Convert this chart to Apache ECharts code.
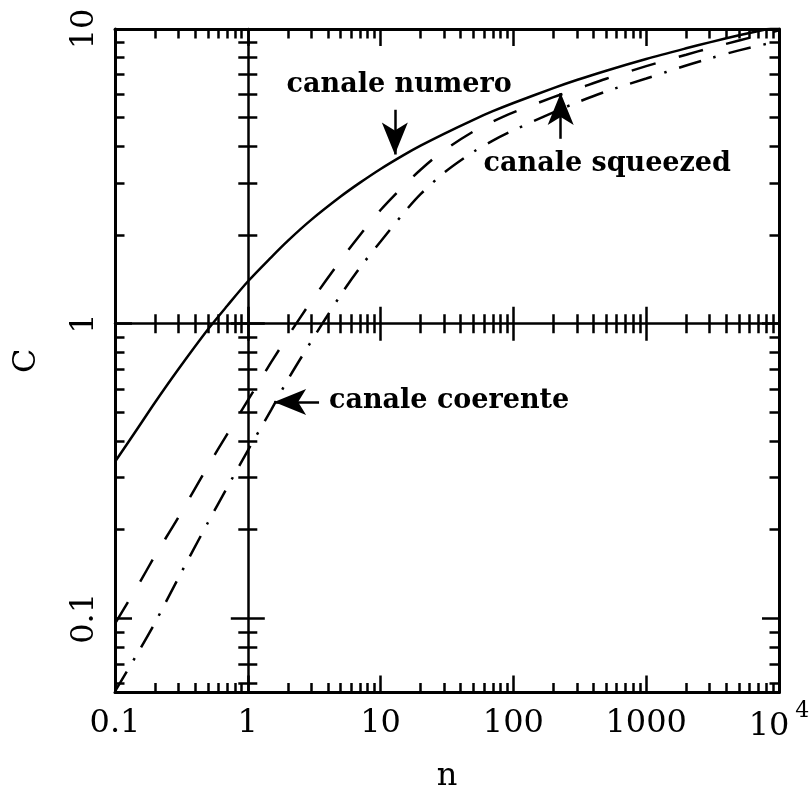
<!DOCTYPE html>
<html>
<head>
<meta charset="utf-8">
<script src="https://cdn.jsdelivr.net/npm/echarts@6.0.0/dist/echarts.min.js"></script>
<style>
html,body{margin:0;padding:0;background:#ffffff;}
#chart{width:810px;height:809px;}
</style>
</head>
<body>
<div id="chart"></div>
<script>
// ---- data ----
const nValues   = [0.1, 0.15, 0.2, 0.3, 0.5, 0.7, 1, 1.5, 2, 3, 5, 7, 10, 15, 20, 30, 50, 70, 100, 200, 300, 500, 1000, 2000, 3000, 5000, 10000];
const numero    = [0.34, 0.445, 0.54, 0.70, 0.955, 1.15, 1.39, 1.68, 1.91, 2.25, 2.70, 3.01, 3.35, 3.74, 4.02, 4.41, 4.92, 5.26, 5.61, 6.30, 6.71, 7.22, 7.91, 8.60, 9.01, 9.52, 10.2];
const squeezed  = [0.096, 0.130, 0.163, 0.220, 0.328, 0.422, 0.549, 0.74, 0.905, 1.19, 1.64, 2.00, 2.43, 2.94, 3.33, 3.87, 4.49, 4.85, 5.21, 5.87, 6.25, 6.78, 7.48, 8.18, 8.61, 9.14, 9.9];
const coerente  = [0.0565, 0.0769, 0.0966, 0.137, 0.211, 0.278, 0.371, 0.510, 0.645, 0.870, 1.25, 1.55, 1.90, 2.38, 2.75, 3.25, 3.83, 4.18, 4.53, 5.21, 5.63, 6.14, 6.79, 7.52, 7.94, 8.46, 9.1];

const xMajorTicks = [0.1, 1, 10, 100, 1000, 10000];
const xTickLabels = ['0.1', '1', '10', '100', '1000', '10^4'];
const xMinorTicks = [0.2, 0.3, 0.4, 0.5, 0.6, 0.7, 0.8, 0.9, 2, 3, 4, 5, 6, 7, 8, 9, 20, 30, 40, 50, 60, 70, 80, 90, 200, 300, 400, 500, 600, 700, 800, 900, 2000, 3000, 4000, 5000, 6000, 7000, 8000, 9000];
const yMajorTicks = [0.1, 1, 10];
const yTickLabels = ['0.1', '1', '10'];
const yMinorTicks = [0.06, 0.07, 0.08, 0.09, 0.2, 0.3, 0.4, 0.5, 0.6, 0.7, 0.8, 0.9, 2, 3, 4, 5, 6, 7, 8, 9];

const annotationTexts = ['canale numero', 'canale squeezed', 'canale coerente'];

// ---- layout & style ----
const L = v => Math.log10(v);
const X_MIN = 0.1, X_MAX = 10000, Y_MIN = 0.056, Y_MAX = 10;
const GRID = {left: 115, right: 31, top: 29, bottom: 116.5};
const CW = 810, CH = 809;
const gridW = CW - GRID.left - GRID.right;
const gridH = CH - GRID.top - GRID.bottom;
const crossXOffset = -gridH * (L(1) - L(Y_MIN)) / (L(Y_MAX) - L(Y_MIN));
const crossYOffset = -gridW * (L(1) - L(X_MIN)) / (L(X_MAX) - L(X_MIN));
const FONT = 'DejaVu Serif';
const BLACK = '#000000';
const tickLine = {color: BLACK, width: 2.5};
const MAJOR = 17, MINOR = 9.5;

function helper(dim, position, offset, ticks, len, inside, extra) {
  const lo = dim === 'x' ? L(X_MIN) : L(Y_MIN);
  const hi = dim === 'x' ? L(X_MAX) : L(Y_MAX);
  return Object.assign({
    type: 'value', gridIndex: 0, position: position, offset: offset, min: lo, max: hi,
    splitLine: {show: false}, minorTick: {show: false}, minorSplitLine: {show: false},
    axisLine: {show: false, onZero: false},
    axisLabel: {show: false},
    axisTick: {show: true, inside: inside, length: len, customValues: ticks.map(L), lineStyle: tickLine},
    axisPointer: {show: false}, silent: true
  }, extra || {});
}
function frameLine(w) { return {show: true, onZero: false, lineStyle: {color: BLACK, width: w}}; }
function findIdx(ticks, v) { return ticks.findIndex(t => Math.abs(L(t) - v) < 1e-6); }

const xAxes = [
  {type: 'log', logBase: 10, min: X_MIN, max: X_MAX, gridIndex: 0, position: 'bottom',
   axisLine: {show: false, onZero: false}, axisTick: {show: false}, axisLabel: {show: false},
   splitLine: {show: false}, minorTick: {show: false}, axisPointer: {show: false}},
  helper('x', 'bottom', 0, xMajorTicks, MAJOR, true, {
    axisLine: frameLine(3),
    name: 'n', nameLocation: 'middle', nameGap: 68,
    nameTextStyle: {fontFamily: FONT, fontSize: 32, color: BLACK},
    axisLabel: {
      show: true, customValues: xMajorTicks.map(L), margin: 8,
      formatter: v => {
        const t = xTickLabels[findIdx(xMajorTicks, v)] || '';
        if (t.indexOf('^') >= 0) { const p = t.split('^'); return '{b|' + p[0] + '}{s|' + p[1] + '}'; }
        return '{b|' + t + '}';
      },
      rich: {
        b: {fontFamily: FONT, fontSize: 32, color: BLACK, lineHeight: 46},
        s: {fontFamily: FONT, fontSize: 22, color: BLACK, padding: [0, 0, 30, 6]}
      }
    }
  }),
  helper('x', 'bottom', 0, xMinorTicks, MINOR, true),
  helper('x', 'top', 0, xMajorTicks, MAJOR, true, {axisLine: frameLine(3)}),
  helper('x', 'top', 0, xMinorTicks, MINOR, true),
  helper('x', 'bottom', crossXOffset, xMajorTicks, MAJOR, true, {axisLine: frameLine(2.5)}),
  helper('x', 'bottom', crossXOffset, xMajorTicks, MAJOR, false),
  helper('x', 'bottom', crossXOffset, xMinorTicks, MINOR, true),
  helper('x', 'bottom', crossXOffset, xMinorTicks, MINOR, false)
];

const yAxes = [
  {type: 'log', logBase: 10, min: Y_MIN, max: Y_MAX, gridIndex: 0, position: 'left',
   axisLine: {show: false, onZero: false}, axisTick: {show: false}, axisLabel: {show: false},
   splitLine: {show: false}, minorTick: {show: false}, axisPointer: {show: false}},
  helper('y', 'left', 0, yMajorTicks, MAJOR, true, {
    axisLine: frameLine(3),
    name: 'C', nameLocation: 'middle', nameGap: 72, nameRotate: 90,
    nameTextStyle: {fontFamily: FONT, fontSize: 32, color: BLACK},
    axisLabel: {
      show: true, customValues: yMajorTicks.map(L), margin: 14, rotate: 90,
      fontFamily: FONT, fontSize: 32, color: BLACK,
      formatter: v => yTickLabels[findIdx(yMajorTicks, v)] || ''
    }
  }),
  helper('y', 'left', 0, yMinorTicks, MINOR, true),
  helper('y', 'right', 0, yMajorTicks, MAJOR, true, {axisLine: frameLine(3)}),
  helper('y', 'right', 0, yMinorTicks, MINOR, true),
  helper('y', 'left', crossYOffset, yMajorTicks, MAJOR, true, {axisLine: frameLine(2.5)}),
  helper('y', 'left', crossYOffset, yMajorTicks, MAJOR, false),
  helper('y', 'left', crossYOffset, yMinorTicks, MINOR, true),
  helper('y', 'left', crossYOffset, yMinorTicks, MINOR, false)
];

const labelStyle = {show: true, position: 'inside', formatter: p => p.name,
  fontFamily: FONT, fontWeight: 'bold', fontSize: 27, color: BLACK};

// arrows: [tail, tip] in data coordinates
function arrow(from, to) {
  return [
    {coord: from, symbol: 'none'},
    {coord: to, symbol: 'arrow', symbolSize: [19.5, 32]}
  ];
}
function markLineOf(data) {
  return {silent: true, animation: false, symbol: ['none', 'arrow'], symbolSize: 24,
    lineStyle: {color: BLACK, width: 2.5, type: 'solid'}, itemStyle: {color: BLACK},
    label: {show: false}, emphasis: {disabled: true}, data: data};
}
function markPointOf(name, coord) {
  return {silent: true, animation: false, symbol: 'circle', symbolSize: 1,
    itemStyle: {color: 'rgba(0,0,0,0)'}, label: labelStyle, data: [{name: name, coord: coord}]};
}

function curve(name, vals, dash) {
  return {
    type: 'line', name: name, xAxisIndex: 0, yAxisIndex: 0,
    data: nValues.map((n, i) => [n, vals[i]]),
    showSymbol: false, symbol: 'none', silent: true, animation: false, smooth: 0.3,
    lineStyle: {color: BLACK, width: 2.5, type: dash, cap: 'butt'},
    itemStyle: {color: BLACK}, z: 3
  };
}

const sNumero = curve('numero', numero, 'solid');
sNumero.markLine = markLineOf([arrow([12.8, 5.32], [12.8, 3.75])]);
sNumero.markPoint = markPointOf(annotationTexts[0], [13.8, 6.44]);

const sSqueezed = curve('squeezed', squeezed, [25, 24]);
sSqueezed.markLine = markLineOf([arrow([227, 4.24], [227, 6.06])]);
sSqueezed.markPoint = markPointOf(annotationTexts[1], [509, 3.48]);

const sCoerente = curve('coerente', coerente, [23, 13, 2.5, 13]);
sCoerente.markLine = markLineOf([arrow([3.44, 0.542], [1.578, 0.542])]);
sCoerente.markPoint = markPointOf(annotationTexts[2], [32.8, 0.545]);

const chart = echarts.init(document.getElementById('chart'), null, {renderer: 'canvas'});
chart.setOption({
  animation: false,
  backgroundColor: '#ffffff',
  grid: {left: GRID.left, right: GRID.right, top: GRID.top, bottom: GRID.bottom, containLabel: false, outerBoundsMode: 'none'},
  xAxis: xAxes,
  yAxis: yAxes,
  series: [sNumero, sSqueezed, sCoerente]
});
</script>
</body>
</html>
